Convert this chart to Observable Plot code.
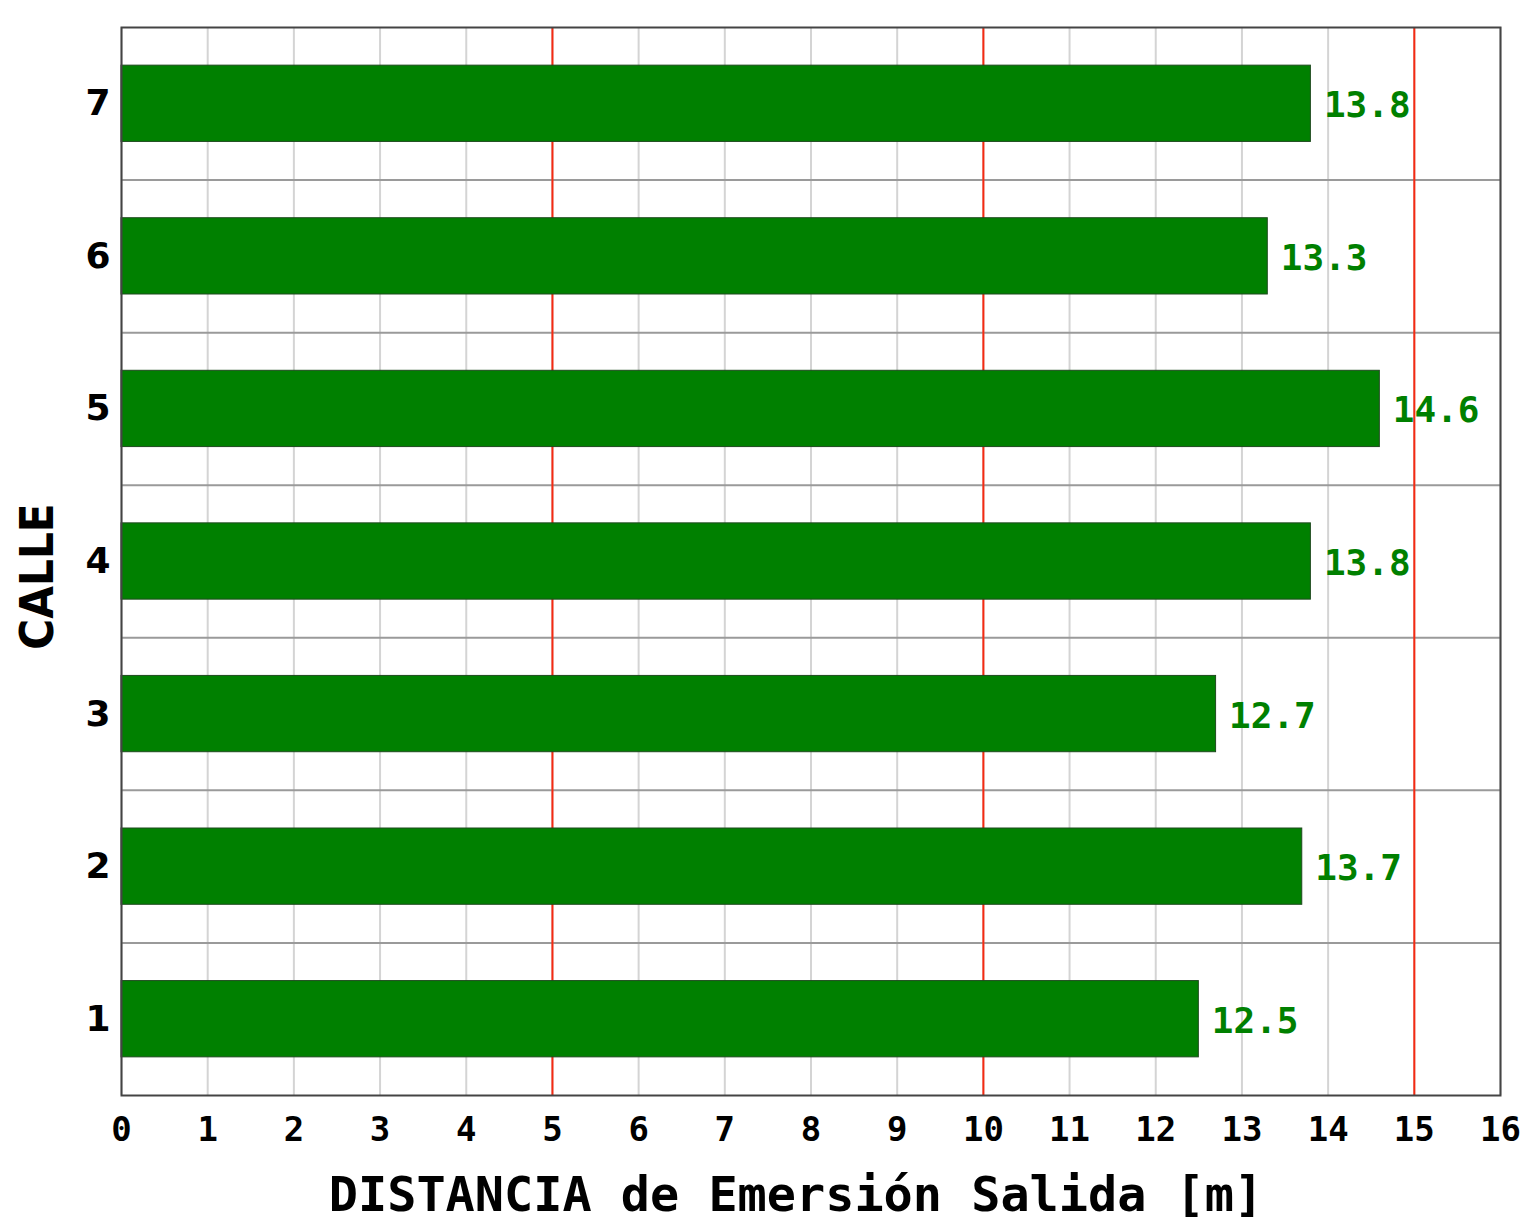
<!DOCTYPE html>
<html>
<head>
<meta charset="utf-8">
<script src="https://cdn.jsdelivr.net/npm/d3@7"></script>
<script src="https://cdn.jsdelivr.net/npm/@observablehq/plot@0.6"></script>
<style>
  html, body { margin: 0; padding: 0; background: #ffffff; }
  #chart svg { display: block; }
</style>
</head>
<body>
<div id="chart"></div>
<script>
// Data
const calles = [1, 2, 3, 4, 5, 6, 7];
const distancias = [12.5, 13.7, 12.7, 13.8, 14.6, 13.3, 13.8];
const xTicks = [0, 1, 2, 3, 4, 5, 6, 7, 8, 9, 10, 11, 12, 13, 14, 15, 16];
const refLines = [5, 10, 15];
const xTitle = "DISTANCIA de Emersión Salida [m]";
const yTitle = "CALLE";

const data = calles.map((c, i) => ({calle: c, valor: distancias[i]}));
const separators = calles.slice(0, -1).map(c => c + 0.5);

const mono = "'DejaVu Sans Mono', monospace";
const sans = "'DejaVu Sans', sans-serif";
const condensed = "'DejaVu Sans Condensed', 'Roboto', sans-serif";

const chart = Plot.plot({
  width: 1524,
  height: 1223,
  marginLeft: 121,
  marginRight: 24,
  marginTop: 27,
  marginBottom: 128,
  style: {background: "#ffffff", color: "#000"},
  x: {domain: [0, 16]},
  y: {domain: [0.5, 7.5]},
  marks: [
    Plot.gridX(xTicks, {stroke: "#d4d4d4", strokeOpacity: 1, strokeWidth: 2}),
    Plot.ruleY(separators, {stroke: "#9a9a9a", strokeWidth: 2}),
    Plot.ruleX(refLines, {stroke: "#f52a12", strokeWidth: 2}),
    Plot.rectX(data, {
      x1: 0, x2: "valor",
      y1: d => d.calle - 0.25, y2: d => d.calle + 0.25,
      fill: "#008000", stroke: "#1f4a1f", strokeWidth: 1
    }),
    Plot.text(data, {
      x: "valor", y: "calle", text: d => d.valor.toFixed(1),
      textAnchor: "start", dx: 13, dy: 2, fill: "#008000",
      fontFamily: mono, fontWeight: "bold", fontSize: 36
    }),
    Plot.frame({stroke: "#444", strokeWidth: 2}),
    Plot.axisX(xTicks, {
      tickSize: 0, tickPadding: 21, tickFormat: d => String(d),
      fontFamily: mono, fontWeight: "bold", fontSize: 34,
      label: null
    }),
    Plot.axisY(calles, {
      tickSize: 0, tickPadding: 11, tickFormat: d => String(d),
      fontFamily: sans, fontWeight: "bold", fontSize: 36,
      label: null
    }),
    Plot.text([xTitle], {
      frameAnchor: "bottom", dy: 100, dx: -15, lineAnchor: "middle", textAnchor: "middle",
      fontFamily: mono, fontWeight: "bold", fontSize: 48.5, fill: "#000"
    }),
    Plot.text([yTitle], {
      frameAnchor: "left", dx: -84, dy: 15, rotate: -90, lineAnchor: "middle", textAnchor: "middle",
      fontFamily: condensed, fontWeight: "bold", fontSize: 47, fill: "#000"
    })
  ]
});

document.getElementById("chart").appendChild(chart);
</script>
</body>
</html>
